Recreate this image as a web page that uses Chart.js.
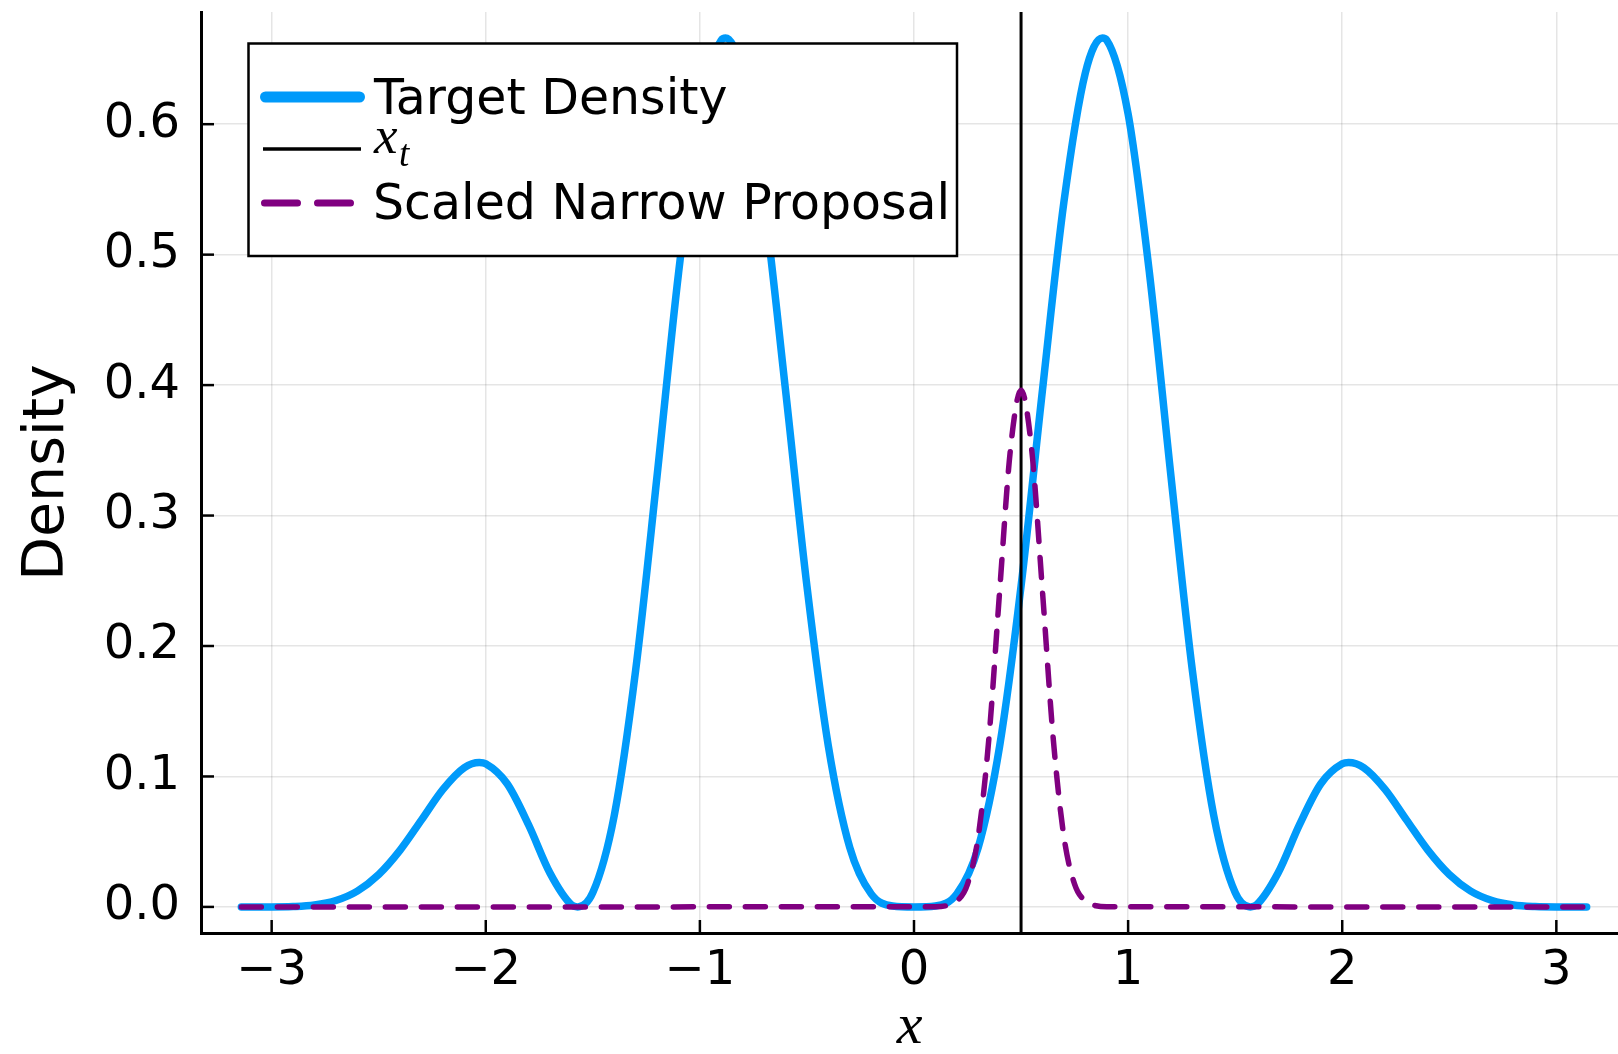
<!DOCTYPE html>
<html>
<head>
<meta charset="utf-8">
<script src="https://cdn.jsdelivr.net/npm/chart.js@4.4.0/dist/chart.umd.min.js"></script>
<style>
  html, body { margin: 0; padding: 0; background: #fff; overflow: hidden; }
  #wrap { width: 1618px; height: 1054px; }
</style>
</head>
<body>
<div id="wrap"><canvas id="myChart" width="1618" height="1054"></canvas></div>
<script>
// values
const xGrid = [
  -3.1416, -3.1, -3.0, -2.9, -2.8, -2.7, -2.6, -2.5, -2.4, -2.3, -2.2, -2.1, -2.03, -2.0,
  -1.9, -1.8, -1.7, -1.6, -1.5708, -1.5, -1.4, -1.3, -1.2, -1.1, -1.0, -0.9, -0.88,
  -0.8, -0.7, -0.6, -0.5, -0.4, -0.3, -0.2, -0.1, 0,
  0.1, 0.2, 0.3, 0.4, 0.5, 0.6, 0.7, 0.8, 0.88, 0.9, 1.0, 1.1, 1.2, 1.3, 1.4, 1.5,
  1.5708, 1.6, 1.7, 1.8, 1.9, 2.0, 2.03, 2.1, 2.2, 2.3, 2.4, 2.5, 2.6, 2.7, 2.8, 2.9,
  3.0, 3.1, 3.1416
];
const targetDensity = [
  0, 0, 0, 0.0003, 0.0015, 0.0049, 0.0121, 0.0248, 0.0435, 0.0667, 0.0901, 0.1068, 0.1107, 0.1097,
  0.0944, 0.0629, 0.0259, 0.0016, 0, 0.0110, 0.0700, 0.1814, 0.3303, 0.4854, 0.6079, 0.6645, 0.6661,
  0.6392, 0.5401, 0.3961, 0.2459, 0.1233, 0.0456, 0.0100, 0.0007, 0,
  0.0007, 0.0100, 0.0456, 0.1233, 0.2459, 0.3961, 0.5401, 0.6392, 0.6661, 0.6645, 0.6079, 0.4854, 0.3303, 0.1814, 0.0700, 0.0110,
  0, 0.0016, 0.0259, 0.0629, 0.0944, 0.1097, 0.1107, 0.1068, 0.0901, 0.0667, 0.0435, 0.0248, 0.0121, 0.0049, 0.0015, 0.0003,
  0, 0, 0
];
const proposalX = [-3.1416, 0.1, 0.15, 0.2, 0.25, 0.3, 0.35, 0.4, 0.45, 0.5, 0.55, 0.6, 0.65, 0.7, 0.75, 0.8, 0.85, 0.9, 3.1416];
const proposalDensity = [0, 0.0001, 0.0009, 0.0044, 0.0175, 0.054, 0.1295, 0.242, 0.35, 0.396, 0.35, 0.242, 0.1295, 0.054, 0.0175, 0.0044, 0.0009, 0.0001, 0];
const xT = 0.5;

const xTicks = [-3, -2, -1, 0, 1, 2, 3];
const yTicks = [0, 0.1, 0.2, 0.3, 0.4, 0.5, 0.6];
const xRange = [-3.33, 3.288];
const yRange = [-0.02, 0.686];

const legendNames = ['Target Density', 'x', 'Scaled Narrow Proposal'];

const blue = '#009AFA';
const purple = '#800080';

// inward tick marks like the original
const innerTicks = {
  id: 'innerTicks',
  afterDatasetsDraw(chart) {
    const { ctx, chartArea, scales } = chart;
    ctx.save();
    ctx.strokeStyle = '#000';
    ctx.lineWidth = 2.5;
    xTicks.forEach(v => {
      const px = scales.x.getPixelForValue(v);
      ctx.beginPath();
      ctx.moveTo(px, chartArea.bottom);
      ctx.lineTo(px, chartArea.bottom - 13);
      ctx.stroke();
    });
    yTicks.forEach(v => {
      const py = scales.y.getPixelForValue(v);
      ctx.beginPath();
      ctx.moveTo(chartArea.left, py);
      ctx.lineTo(chartArea.left + 13, py);
      ctx.stroke();
    });
    ctx.restore();
  }
};

// legend box in the top-left corner
const plotsLegend = {
  id: 'plotsLegend',
  afterDraw(chart) {
    const { ctx } = chart;
    ctx.save();
    ctx.fillStyle = '#fff';
    ctx.fillRect(248.5, 43.5, 708.5, 212.5);
    ctx.strokeStyle = '#000';
    ctx.lineWidth = 2.5;
    ctx.strokeRect(248.5, 43.5, 708.5, 212.5);

    ctx.lineCap = 'round';
    ctx.strokeStyle = blue;
    ctx.lineWidth = 11;
    ctx.beginPath(); ctx.moveTo(265.5, 97); ctx.lineTo(359.5, 97); ctx.stroke();

    ctx.lineCap = 'butt';
    ctx.strokeStyle = '#000';
    ctx.lineWidth = 3.5;
    ctx.beginPath(); ctx.moveTo(263, 149); ctx.lineTo(361, 149); ctx.stroke();

    ctx.lineCap = 'round';
    ctx.strokeStyle = purple;
    ctx.lineWidth = 7;
    ctx.setLineDash([33, 20]);
    ctx.beginPath(); ctx.moveTo(264.5, 203); ctx.lineTo(351, 203); ctx.stroke();
    ctx.setLineDash([]);

    ctx.fillStyle = '#000';
    ctx.textBaseline = 'alphabetic';
    ctx.textAlign = 'left';
    ctx.font = '49px "DejaVu Sans"';
    ctx.fillText(legendNames[0], 374, 114);
    ctx.fillText(legendNames[2], 373, 219);
    ctx.font = 'italic 53px "Liberation Serif"';
    ctx.fillText(legendNames[1], 374, 153);
    ctx.font = 'italic 37px "Liberation Serif"';
    ctx.fillText('t', 399, 166);
    ctx.restore();
  }
};

const minus = v => (v < 0 ? '\u2212' + Math.abs(v) : String(v));

Chart.defaults.color = '#000';

window.myChart = new Chart(document.getElementById('myChart'), {
  type: 'line',
  data: {
    datasets: [
      {
        label: legendNames[0],
        data: xGrid.map((x, i) => ({ x: x, y: targetDensity[i] })),
        borderColor: blue,
        borderWidth: 7.5,
        borderCapStyle: 'round',
        borderJoinStyle: 'round',
        pointRadius: 0,
        cubicInterpolationMode: 'monotone',
        order: 2
      },
      {
        label: 'x_t',
        data: [{ x: xT, y: yRange[0] }, { x: xT, y: yRange[1] }],
        borderColor: '#000',
        borderWidth: 3,
        pointRadius: 0,
        order: 1
      },
      {
        label: legendNames[2],
        data: proposalX.map((x, i) => ({ x: x, y: proposalDensity[i] })),
        borderColor: purple,
        borderWidth: 5.5,
        borderDash: [20, 16],
        borderCapStyle: 'round',
        pointRadius: 0,
        cubicInterpolationMode: 'monotone',
        order: 0
      }
    ]
  },
  options: {
    responsive: false,
    animation: false,
    devicePixelRatio: 1,
    events: [],
    layout: { padding: { top: 12, left: 0, right: 0, bottom: 0 } },
    plugins: {
      legend: { display: false },
      tooltip: { enabled: false }
    },
    scales: {
      x: {
        type: 'linear',
        min: xRange[0],
        max: xRange[1],
        afterBuildTicks: s => { s.ticks = xTicks.map(v => ({ value: v })); },
        afterFit: s => { s.height = 121; s.paddingLeft = 0; s.paddingRight = 0; },
        ticks: {
          font: { size: 48, family: 'DejaVu Sans' },
          padding: 10,
          maxRotation: 0,
          callback: v => minus(v)
        },
        grid: { color: 'rgba(0,0,0,0.1)', lineWidth: 1.5, drawTicks: false },
        border: { display: true, color: '#000', width: 3 },
        title: {
          display: true,
          text: 'x',
          font: { size: 58, family: 'Liberation Serif', style: 'italic', lineHeight: 0.8 },
          padding: { top: 0, bottom: 3 }
        }
      },
      y: {
        type: 'linear',
        min: yRange[0],
        max: yRange[1],
        afterBuildTicks: s => { s.ticks = yTicks.map(v => ({ value: v })); },
        afterFit: s => { s.width = 201; s.paddingTop = 0; s.paddingBottom = 0; },
        ticks: {
          font: { size: 48, family: 'DejaVu Sans' },
          padding: 21,
          callback: v => v.toFixed(1)
        },
        grid: { color: 'rgba(0,0,0,0.1)', lineWidth: 1.5, drawTicks: false },
        border: { display: true, color: '#000', width: 3 },
        title: {
          display: true,
          text: 'Density',
          font: { size: 57, family: 'DejaVu Sans' },
          padding: { top: 14, bottom: 0 }
        }
      }
    }
  },
  plugins: [innerTicks, plotsLegend]
});
</script>
</body>
</html>
